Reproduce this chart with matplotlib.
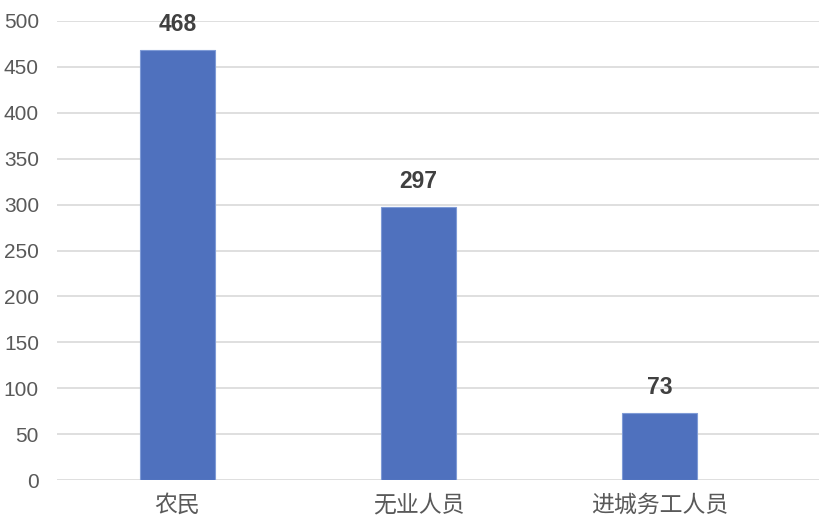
import matplotlib.pyplot as plt

plt.rcParams['font.family'] = ['Liberation Sans', 'Noto Sans CJK SC', 'DejaVu Sans']

# 数据
categories = ['农民', '无业人员', '进城务工人员']
counts = [468, 297, 73]
y_ticks = list(range(0, 501, 50))

fig = plt.figure(figsize=(8.2, 5.29), dpi=100)
ax = fig.add_axes([57 / 820, 1 - 480 / 529, 1 - 57 / 820, (480 - 21) / 529])

x = list(range(len(categories)))
bars = ax.bar(x, counts, width=0.31, color='#4F71BE', edgecolor='#7F9BD6',
              linewidth=0.8, zorder=3)

for b, v in zip(bars, counts):
    ax.annotate(str(v), (b.get_x() + b.get_width() / 2, v),
                xytext=(0, 10), textcoords='offset points',
                ha='center', va='bottom', fontsize=16.5, fontweight='bold',
                color='#404040')

ax.set_xlim(-0.5, 2.666)
ax.set_ylim(0, 500)
ax.set_yticks(y_ticks)
ax.set_xticks(x)
ax.set_xticklabels(categories, fontsize=16.5, color='#595959')
ax.tick_params(axis='y', labelsize=15, labelcolor='#595959', length=0, pad=13)
ax.tick_params(axis='x', length=0, pad=10)
ax.grid(axis='y', color='#D9D9D9', linewidth=1.2, zorder=0)
for s in ax.spines.values():
    s.set_visible(False)

fig.savefig('out.png', dpi=100)
